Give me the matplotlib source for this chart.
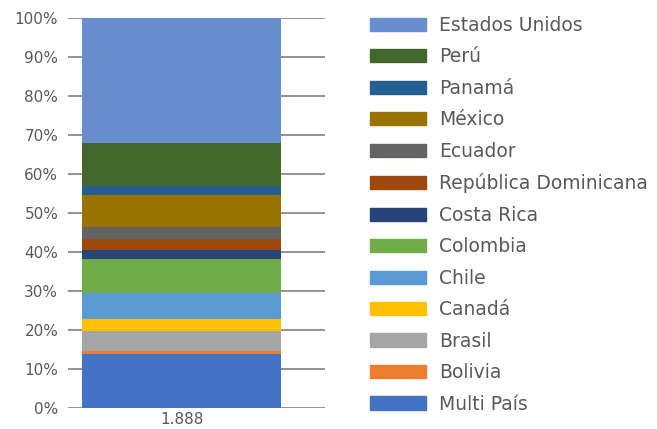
import matplotlib.pyplot as plt
from matplotlib.patches import Patch

# participación por país (%), de abajo hacia arriba
paises = ['Multi País', 'Bolivia', 'Brasil', 'Canadá', 'Chile', 'Colombia',
          'Costa Rica', 'República Dominicana', 'Ecuador', 'México', 'Panamá',
          'Perú', 'Estados Unidos']
valores = [13.8, 0.9, 5.0, 3.1, 6.7, 8.7, 2.3, 2.8, 3.2, 8.1, 2.4, 11.0, 32.0]
colores = ['#4472C4', '#ED7D31', '#A5A5A5', '#FFC000', '#5B9BD5', '#70AD47',
           '#264478', '#9E480E', '#636363', '#997300', '#255E91', '#43682B',
           '#698ED0']
categoria = ['1.888']
yticks = [0, 10, 20, 30, 40, 50, 60, 70, 80, 90, 100]

plt.rcParams['font.family'] = ['DejaVu Sans']
txt = '#595959'

fig = plt.figure(figsize=(6.57, 4.29), dpi=100)
ax = fig.add_axes([68 / 657, 1 - 408 / 429, 257 / 657, 390 / 429])

base = 0
for p, v, c in zip(paises, valores, colores):
    ax.bar([0], [v], bottom=base, width=1.0, color=c, label=p, zorder=3)
    base += v

ax.set_xlim(-0.5 - 14 / 199, 0.5 + 44 / 199)
ax.set_ylim(0, 100)
ax.set_yticks(yticks)
ax.set_yticklabels(['%d%%' % t for t in yticks], color=txt, fontsize=11)
ax.set_xticks([0])
ax.set_xticklabels(categoria, color=txt, fontsize=11)
ax.tick_params(axis='y', length=0, pad=7)
ax.tick_params(axis='x', length=0, pad=3)
ax.yaxis.grid(True, color='#7f7f7f', linewidth=1.2, zorder=0)
ax.set_axisbelow(True)
for s in ax.spines.values():
    s.set_visible(False)

handles = [Patch(color=c) for c in colores][::-1]
leg = fig.legend(handles, paises[::-1], loc='upper left',
                 bbox_to_anchor=(353 / 657, 1 + 1 / 429), frameon=False,
                 fontsize=13.5, handlelength=3.0, handleheight=0.7,
                 handletextpad=0.7, labelspacing=0.665)
for t in leg.get_texts():
    t.set_color(txt)

fig.savefig('out.png', dpi=100)
